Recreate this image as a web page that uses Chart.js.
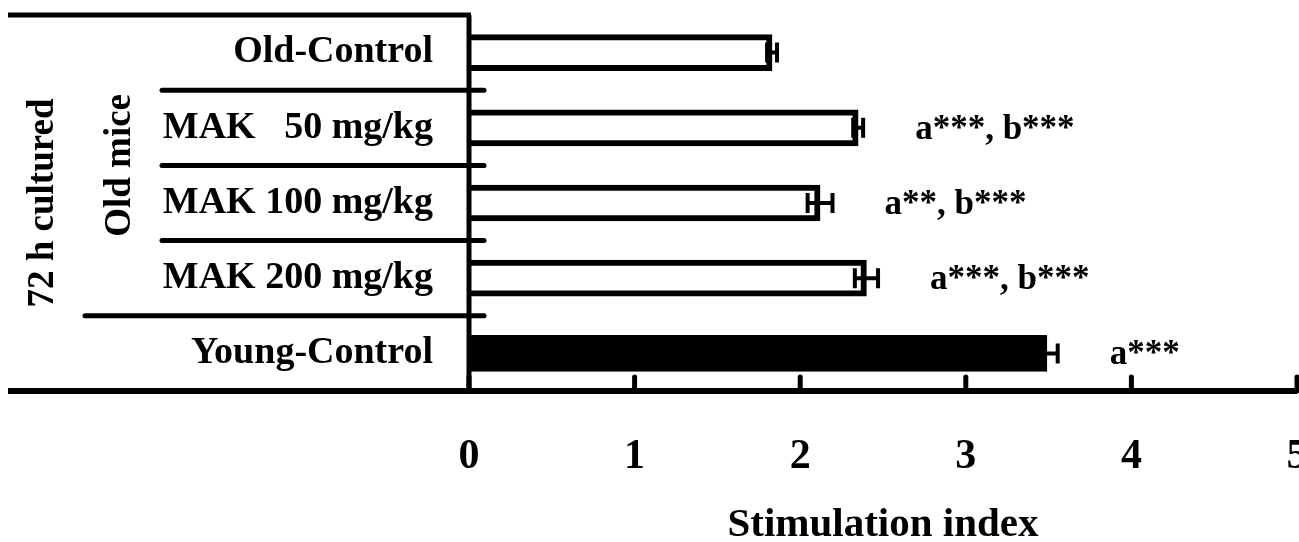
<!DOCTYPE html>
<html lang="en">
<head>
    <meta charset="UTF-8">
    <title>Stimulation index</title>
    <script src="https://cdn.jsdelivr.net/npm/chart.js"></script>
    <style>
        body { margin: 0; background: #fff; }
        canvas { display: block; }
    </style>
</head>
<body>
    <canvas id="barChart" width="1299" height="542"></canvas>
    <script>
        // Chart values
        var categories = ['Old-Control', 'MAK   50 mg/kg', 'MAK 100 mg/kg', 'MAK 200 mg/kg', 'Young-Control'];
        var stimIndex = [1.83, 2.35, 2.12, 2.40, 3.49];
        var stimError = [0.03, 0.03, 0.075, 0.07, 0.065];
        var significance = ['', 'a***, b***', 'a**, b***', 'a***, b***', 'a***'];
        var barFills = ['#ffffff', '#ffffff', '#ffffff', '#ffffff', '#000000'];
        var xTicks = [0, 1, 2, 3, 4, 5];
        var groupLabels = ['72 h cultured', 'Old mice'];

        var serif = "'Liberation Serif', 'Times New Roman', serif";

        // Frame lines, error bars, group labels and significance marks
        var decor = {
            id: 'decor',
            afterDatasetsDraw: function (chart) {
                var ctx = chart.ctx;
                var area = chart.chartArea;
                var xs = chart.scales.x;
                var ys = chart.scales.y;
                ctx.save();
                ctx.strokeStyle = '#000';
                ctx.fillStyle = '#000';

                // error bars
                ctx.lineWidth = 4;
                ctx.lineCap = 'butt';
                stimIndex.forEach(function (v, i) {
                    var yc = ys.getPixelForValue(i);
                    var x1 = xs.getPixelForValue(v - stimError[i]);
                    var x2 = xs.getPixelForValue(v + stimError[i]);
                    ctx.beginPath();
                    ctx.moveTo(x1, yc); ctx.lineTo(x2, yc);
                    ctx.moveTo(x1, yc - 10); ctx.lineTo(x1, yc + 10);
                    ctx.moveTo(x2, yc - 10); ctx.lineTo(x2, yc + 10);
                    ctx.stroke();
                });

                // row separators on the left side (with small ticks into the plot)
                ctx.lineWidth = 5;
                ctx.lineCap = 'round';
                for (var i = 0; i < categories.length - 1; i++) {
                    var yb = (ys.getPixelForValue(i) + ys.getPixelForValue(i + 1)) / 2;
                    var left = (i === categories.length - 2) ? 85 : 162;
                    ctx.beginPath();
                    ctx.moveTo(left, yb); ctx.lineTo(area.left + 15, yb);
                    ctx.stroke();
                }

                // x tick marks pointing up
                xTicks.forEach(function (t) {
                    var xt = xs.getPixelForValue(t);
                    ctx.beginPath();
                    ctx.moveTo(xt, area.bottom); ctx.lineTo(xt, area.bottom - 14);
                    ctx.stroke();
                });

                // top line, value axis line, bottom line
                ctx.lineCap = 'butt';
                ctx.lineWidth = 5;
                ctx.beginPath();
                ctx.moveTo(8, area.top); ctx.lineTo(area.left + 2, area.top);
                ctx.stroke();
                ctx.beginPath();
                ctx.moveTo(area.left, area.top); ctx.lineTo(area.left, area.bottom);
                ctx.stroke();
                ctx.lineWidth = 6;
                ctx.beginPath();
                ctx.moveTo(8, area.bottom); ctx.lineTo(area.right, area.bottom);
                ctx.stroke();

                // significance marks
                ctx.font = 'bold 35px ' + serif;
                ctx.textAlign = 'left';
                ctx.textBaseline = 'middle';
                significance.forEach(function (s, i) {
                    if (!s) return;
                    var xe = xs.getPixelForValue(stimIndex[i] + stimError[i]);
                    ctx.fillText(s, xe + 52, ys.getPixelForValue(i) + 2);
                });

                // rotated group labels
                ctx.font = 'bold 37px ' + serif;
                ctx.textAlign = 'center';
                ctx.textBaseline = 'alphabetic';
                var y2 = ys.getPixelForValue(2);
                ctx.save();
                ctx.translate(53, y2);
                ctx.rotate(-Math.PI / 2);
                ctx.fillText(groupLabels[0], 0, 0);
                ctx.restore();
                var y12 = (ys.getPixelForValue(1) + ys.getPixelForValue(2)) / 2;
                ctx.save();
                ctx.translate(130, y12);
                ctx.rotate(-Math.PI / 2);
                ctx.fillText(groupLabels[1], 0, 0);
                ctx.restore();

                ctx.restore();
            }
        };

        var ctx = document.getElementById('barChart').getContext('2d');
        var chart = new Chart(ctx, {
            type: 'bar',
            data: {
                labels: categories,
                datasets: [{
                    data: stimIndex,
                    backgroundColor: barFills,
                    borderColor: '#000000',
                    borderWidth: 6,
                    borderSkipped: 'start',
                    barThickness: 36
                }]
            },
            options: {
                indexAxis: 'y',
                responsive: false,
                animation: false,
                layout: { padding: { top: 15, right: 2, bottom: 0, left: 0 } },
                plugins: {
                    legend: { display: false },
                    tooltip: { enabled: false }
                },
                scales: {
                    x: {
                        type: 'linear',
                        position: 'bottom',
                        min: 0,
                        max: 5,
                        afterBuildTicks: function (scale) {
                            scale.ticks = xTicks.map(function (v) { return { value: v }; });
                        },
                        ticks: {
                            color: '#000',
                            padding: 33,
                            maxRotation: 0,
                            font: { family: serif, size: 42, weight: 'bold' }
                        },
                        grid: { display: false },
                        border: { display: false },
                        title: {
                            display: true,
                            text: 'Stimulation index',
                            color: '#000',
                            padding: 0,
                            font: { family: serif, size: 41, weight: 'bold', lineHeight: 0.8 }
                        },
                        afterFit: function (scale) {
                            scale.height = 151;
                            scale.paddingLeft = 0;
                            scale.paddingRight = 0;
                        }
                    },
                    y: {
                        type: 'category',
                        position: 'left',
                        ticks: {
                            color: '#000',
                            padding: 28,
                            font: { family: serif, size: 38, weight: 'bold' }
                        },
                        grid: { display: false },
                        border: { display: false },
                        afterFit: function (scale) {
                            scale.width = 469;
                            scale.paddingTop = 0;
                            scale.paddingBottom = 0;
                        }
                    }
                }
            },
            plugins: [decor]
        });
    </script>
</body>
</html>
